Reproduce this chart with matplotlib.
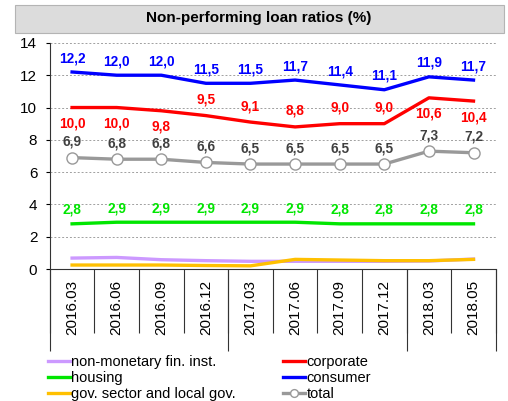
import numpy as np
import matplotlib.pyplot as plt
from matplotlib.patches import Rectangle

plt.rcParams["font.family"] = ["Liberation Sans", "DejaVu Sans"]

periods = ["2016.03", "2016.06", "2016.09", "2016.12", "2017.03",
           "2017.06", "2017.09", "2017.12", "2018.03", "2018.05"]

consumer = [12.2, 12.0, 12.0, 11.5, 11.5, 11.7, 11.4, 11.1, 11.9, 11.7]
corporate = [10.0, 10.0, 9.8, 9.5, 9.1, 8.8, 9.0, 9.0, 10.6, 10.4]
total = [6.9, 6.8, 6.8, 6.6, 6.5, 6.5, 6.5, 6.5, 7.3, 7.2]
housing = [2.8, 2.9, 2.9, 2.9, 2.9, 2.9, 2.8, 2.8, 2.8, 2.8]
non_monetary = [0.68, 0.72, 0.58, 0.52, 0.48, 0.48, 0.48, 0.48, 0.5, 0.62]
gov = [0.25, 0.25, 0.25, 0.22, 0.2, 0.6, 0.56, 0.52, 0.52, 0.6]

# label above (+1) or below (-1) the point
corporate_side = [-1, -1, -1, 1, 1, 1, 1, 1, -1, -1]

C_PURPLE = "#cc99ff"
C_RED = "#ff0000"
C_GREEN = "#00e600"
C_BLUE = "#0000ff"
C_GOLD = "#ffc000"
C_GRAY = "#999999"


def fmt(v):
    return f"{v:.1f}".replace(".", ",")


def label_series(ax, x, vals, color, sides, off=11):
    for xi, v, s in zip(x, vals, sides):
        ax.annotate(fmt(v), (xi, v), xytext=(0, s * off), textcoords="offset points",
                    ha="center", va="center", fontsize=9.8, fontweight="bold", color=color)


def main():
    fig = plt.figure(figsize=(5.08, 4.01), dpi=100)
    ax = fig.add_axes([0.098, 0.329, 0.878, 0.564])

    # title box
    fig.patches.append(Rectangle((15 / 508, 1 - 33 / 401), 489 / 508, 28 / 401,
                                 transform=fig.transFigure, facecolor="#dcdcdc",
                                 edgecolor="#b4b4b4", linewidth=0.8))
    fig.text(259 / 508, 1 - 18 / 401, "Non-performing loan ratios (%)",
             ha="center", va="center", fontsize=11, fontweight="bold")

    x = np.arange(len(periods))
    lw = 2.4
    ax.plot(x, non_monetary, color=C_PURPLE, lw=lw, label="non-monetary fin. inst.")
    ax.plot(x, corporate, color=C_RED, lw=lw, label="corporate")
    ax.plot(x, housing, color=C_GREEN, lw=lw, label="housing")
    ax.plot(x, consumer, color=C_BLUE, lw=lw, label="consumer")
    ax.plot(x, gov, color=C_GOLD, lw=lw, label="gov. sector and local gov.")
    ax.plot(x, total, color=C_GRAY, lw=lw, marker="o", markersize=8,
            markerfacecolor="white", markeredgecolor=C_GRAY, markeredgewidth=1,
            label="total")

    label_series(ax, x, consumer, C_BLUE, [1] * len(x), off=10)
    label_series(ax, x, corporate, C_RED, corporate_side, off=11.5)
    label_series(ax, x, total, "#404040", [1] * len(x), off=11.5)
    label_series(ax, x, housing, C_GREEN, [1] * len(x), off=10)

    ax.set_xlim(-0.5, len(periods) - 0.5)
    ax.set_ylim(0, 14)
    ax.set_yticks(np.arange(0, 15, 2))
    ax.tick_params(axis="y", labelsize=11, length=3, direction="out", pad=6)
    ax.grid(axis="y", linestyle=(0, (2, 2)), color="#a0a0a0", linewidth=0.7)
    ax.set_axisbelow(True)

    ax.set_xticks(x)
    ax.set_xticklabels(periods, rotation=90, fontsize=11)
    ax.tick_params(axis="x", which="major", length=0, pad=8)
    ax.set_xticks(np.arange(-0.5, len(periods)), minor=True)
    ax.tick_params(axis="x", which="minor", length=46, width=0.8, color="#333333")

    # year separators reach further down
    sec = ax.secondary_xaxis("bottom")
    sec.set_xticks([-0.5, 3.5, 7.5, 9.5])
    sec.set_xticklabels([])
    sec.tick_params(length=59, width=0.8, color="#333333")
    sec.spines["bottom"].set_visible(False)

    for s in ["top", "right"]:
        ax.spines[s].set_visible(False)
    ax.spines["left"].set_color("#333333")
    ax.spines["bottom"].set_color("#333333")

    handles, labels = ax.get_legend_handles_labels()
    order = [0, 2, 4, 1, 3, 5]
    fig.legend([handles[i] for i in order], [labels[i] for i in order],
               loc="upper left", bbox_to_anchor=(0.094, 0.114), ncol=2,
               frameon=False, fontsize=10.5, handlelength=1.5, handletextpad=0.1,
               labelspacing=0.12, columnspacing=3.25, borderaxespad=0, borderpad=0,
               markerscale=0.7)

    fig.savefig("out.png", dpi=100)
    plt.close(fig)


if __name__ == "__main__":
    main()
